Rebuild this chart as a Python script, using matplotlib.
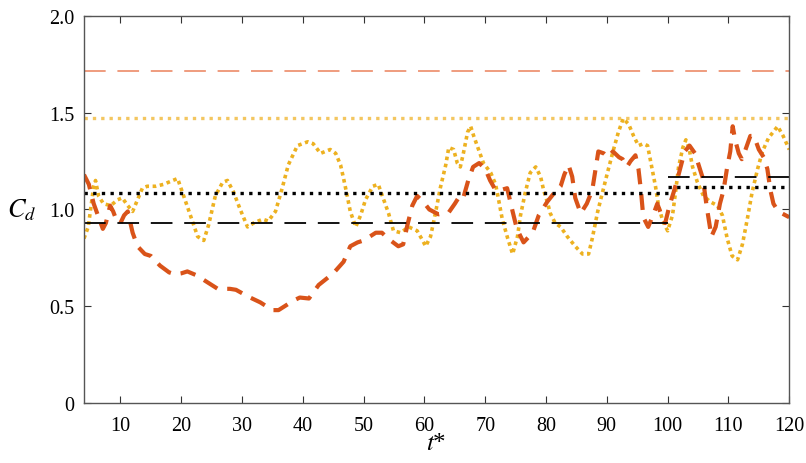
import matplotlib
matplotlib.use("Agg")
import matplotlib.pyplot as plt

plt.rcParams['font.family'] = ['Liberation Serif', 'DejaVu Serif']
plt.rcParams['mathtext.fontset'] = 'stix'

# ---------------- data ----------------
t_red = [4, 4.8, 5.6, 6.4, 7.1, 7.6, 8.3, 8.8, 9.4, 10.0, 10.6, 11.2, 12.0, 12.8, 14, 15, 16.5, 18, 19, 20,
         21, 22.5, 24, 26, 28, 29, 31, 33, 34, 35, 36, 37, 38.5, 39.5, 41, 42.6, 45, 46.7, 47.8, 49,
         50, 52, 53, 54, 55.7, 56.5, 57.2, 58, 58.8, 59.8, 60.8, 62.3, 64, 65, 65.6, 66.3, 67.2, 68, 69, 70,
         70.8, 71.7, 72.5, 73.6, 74.5, 75.2, 76.3, 77.8, 78.8, 80.2, 81.2, 82.4, 83.0, 83.7, 84.3, 84.8, 85.7, 86.7, 87.6, 88.1,
         88.6, 89.5, 90.2, 91, 92, 92.6, 93.3, 93.9, 94.7, 95.2, 95.6, 96, 96.8, 97.6, 98.3, 99.1, 99.6, 100.3, 101, 101.8,
         102.8, 103.6, 104.5, 105.2, 105.8, 106.4, 107.2, 107.9, 108.6, 109.2, 109.8, 110.3, 110.7, 111.1, 111.7, 112.2, 112.7, 113.6, 114.2, 115,
         115.8, 116.4, 116.9, 117.4, 118, 118.8, 120]
cd_red = [1.18, 1.13, 1.03, 0.96, 0.90, 0.93, 1.02, 0.99, 0.94, 0.93, 0.97, 0.99, 0.88, 0.81, 0.77, 0.76, 0.71, 0.675, 0.665, 0.67,
          0.68, 0.66, 0.63, 0.59, 0.59, 0.585, 0.55, 0.52, 0.50, 0.48, 0.48, 0.50, 0.53, 0.545, 0.54, 0.61, 0.67, 0.73, 0.81, 0.83,
          0.84, 0.88, 0.88, 0.85, 0.81, 0.82, 0.92, 1.02, 1.07, 1.04, 1.00, 0.975, 0.985, 1.03, 1.06, 1.05, 1.15, 1.22, 1.24, 1.21,
          1.15, 1.10, 1.10, 1.11, 0.99, 0.90, 0.83, 0.88, 0.97, 1.04, 1.08, 1.12, 1.18, 1.23, 1.17, 1.06, 0.98, 1.03, 1.10, 1.20,
          1.30, 1.29, 1.27, 1.30, 1.27, 1.26, 1.22, 1.25, 1.28, 1.21, 1.10, 0.96, 0.91, 0.97, 1.03, 0.96, 0.93, 1.02, 1.09, 1.18,
          1.30, 1.33, 1.29, 1.22, 1.16, 1.02, 0.86, 0.91, 1.03, 1.10, 1.22, 1.30, 1.43, 1.36, 1.29, 1.26, 1.30, 1.38, 1.38, 1.31,
          1.27, 1.21, 1.10, 1.03, 1.00, 0.98, 0.96]

t_yel = [4.0, 4.7, 5.6, 5.9, 6.4, 7.2, 8.4, 9.5, 10.3, 11.2, 12.0, 12.8, 13.6, 14.4, 15.8, 17.1, 18.6, 19.4, 20.4, 21.5,
         22.7, 23.7, 24.5, 25.6, 26.8, 27.6, 28.6, 29.7, 30.9, 31.9, 33.4, 34.3, 35.5, 36.6, 37.6, 39.1, 40.8, 41.7, 42.9, 44.5,
         45.4, 46.2, 46.7, 47.3, 47.8, 48.7, 49.5, 50.3, 51.5, 52.4, 53.3, 54.1, 54.9, 56.1, 57.4, 58.8, 59.7, 60.2, 61.0, 61.8,
         62.6, 63.5, 64.0, 64.8, 65.4, 65.9, 66.4, 67.1, 67.6, 68.1, 68.9, 69.7, 70.9, 71.7, 72.2, 72.8, 73.7, 74.5, 75.3, 75.8,
         76.6, 77.4, 78.3, 79.1, 79.6, 80.2, 80.7, 81.5, 82.4, 83.5, 84.8, 86.0, 87.0, 87.6, 88.5, 89.3, 90.1, 91.1, 91.9, 92.7,
         93.6, 94.4, 95.2, 96.0, 96.7, 97.2, 98.0, 98.5, 99.2, 100.0, 100.8, 101.3, 101.8, 102.5, 103.0, 103.5, 104.1, 104.9, 105.9, 107.0,
         108.2, 109.0, 109.8, 110.6, 111.5, 112.3, 113.1, 113.9, 114.8, 115.6, 116.6, 118.1, 119.0, 120]
cd_yel = [0.85, 0.91, 1.12, 1.15, 1.07, 1.03, 1.02, 1.05, 1.06, 1.02, 0.99, 1.05, 1.11, 1.12, 1.12, 1.13, 1.15, 1.16, 1.07, 0.97,
          0.86, 0.84, 0.92, 1.07, 1.14, 1.15, 1.09, 1.00, 0.91, 0.93, 0.95, 0.94, 0.99, 1.11, 1.23, 1.33, 1.35, 1.34, 1.29, 1.31,
          1.29, 1.23, 1.16, 1.07, 0.99, 0.91, 0.97, 1.05, 1.12, 1.13, 1.05, 0.98, 0.89, 0.88, 0.91, 0.89, 0.84, 0.81, 0.86, 0.98,
          1.11, 1.23, 1.32, 1.31, 1.24, 1.22, 1.29, 1.40, 1.43, 1.38, 1.31, 1.24, 1.19, 1.13, 1.05, 0.95, 0.85, 0.77, 0.86, 0.97,
          1.09, 1.19, 1.22, 1.17, 1.10, 1.04, 0.98, 0.93, 0.91, 0.86, 0.81, 0.77, 0.77, 0.85, 0.99, 1.09, 1.19, 1.31, 1.40, 1.47,
          1.44, 1.38, 1.33, 1.34, 1.33, 1.25, 1.12, 1.02, 0.94, 0.89, 0.97, 1.09, 1.22, 1.32, 1.36, 1.32, 1.22, 1.14, 1.07, 1.04,
          1.02, 0.97, 0.85, 0.76, 0.74, 0.82, 0.95, 1.09, 1.21, 1.30, 1.37, 1.43, 1.38, 1.31]

# reference levels
t_limits = [4, 120]
t_split = 100
salmon_level = 1.715
lightyellow_level = 1.474
black_dashed_levels = [0.928, 1.168]   # before / after t_split
black_dotted_levels = [1.085, 1.115]   # before / after t_split

x_ticks = [10, 20, 30, 40, 50, 60, 70, 80, 90, 100, 110, 120]
y_ticks = [0, 0.5, 1.0, 1.5, 2.0]
y_ticklabels = ['0', '0.5', '1.0', '1.5', '2.0']

# ---------------- plot ----------------
fig = plt.figure(figsize=(8.06, 4.64), dpi=100)
ax = fig.add_axes([0.1042, 0.1293, 0.8750, 0.8341])

red = '#D95319'
yellow = '#EDB120'
salmon = '#EE9474'
lightyel = '#F3C660'

ax.plot(t_limits, [salmon_level] * 2, color=salmon, lw=1.3, dashes=(12, 6.5))
ax.plot(t_limits, [lightyellow_level] * 2, color=lightyel, lw=2.4, dashes=(1, 1.5), solid_capstyle='butt', dash_capstyle='butt')

ax.plot(t_yel, cd_yel, color=yellow, lw=2.6, dashes=(1, 1.0), dash_capstyle='butt')
ax.plot(t_red, cd_red, color=red, lw=3.0, dashes=(3.8, 2.4), dash_capstyle='butt')

seg1 = [t_limits[0], t_split]
seg2 = [t_split, t_limits[1]]
ax.plot(seg1, [black_dashed_levels[0]] * 2, color='black', lw=1.3, dashes=(12, 6.5))
ax.plot(seg2, [black_dashed_levels[1]] * 2, color='black', lw=1.3, dashes=(12, 6.5))
ax.plot(seg1, [black_dotted_levels[0]] * 2, color='black', lw=2.4, dashes=(1, 1.6), dash_capstyle='butt')
ax.plot(seg2, [black_dotted_levels[1]] * 2, color='black', lw=2.4, dashes=(1, 1.6), dash_capstyle='butt')

ax.set_xlim(t_limits)
ax.set_ylim(0, 2.0)
ax.set_xticks(x_ticks)
ax.set_yticks(y_ticks)
ax.set_yticklabels(y_ticklabels)
ax.tick_params(direction='in', top=True, right=True, length=5, width=0.8,
               labelsize=14.5, colors='#333333', labelcolor='black')
ax.tick_params(axis='x', pad=9)
ax.tick_params(axis='y', pad=7)
for s in ax.spines.values():
    s.set_color('#555555')
    s.set_linewidth(1.0)

ax.set_xlabel('$t$*', fontsize=18, labelpad=-2)
ax.set_ylabel('$C_d$', fontsize=19, rotation=0, labelpad=20, va='center')

fig.savefig('out.png', dpi=100)
